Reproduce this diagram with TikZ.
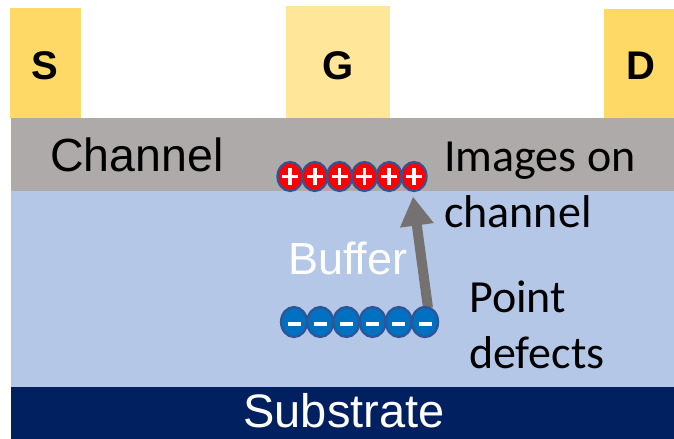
\documentclass[tikz,border=0pt]{standalone}
\usepackage{fontspec}
\setmainfont{Liberation Sans}
\newfontfamily\calib{Carlito}
\usetikzlibrary{shapes.geometric,arrows.meta,calc}
\definecolor{contactc}{HTML}{FFD966}
\definecolor{gatec}{HTML}{FFE699}
\definecolor{channelc}{HTML}{AEAAAA}
\definecolor{bufferc}{HTML}{B4C7E7}
\definecolor{substratec}{HTML}{002060}
\definecolor{arrowc}{HTML}{767171}
\definecolor{rimc}{HTML}{2F5597}
\definecolor{posc}{HTML}{FF0000}
\definecolor{negc}{HTML}{0070C0}
\newcommand\fsz[1]{\fontsize{#1bp}{#1bp}\selectfont}
\begin{document}
\begin{tikzpicture}[x=1bp,y=-1bp,
  lbl/.style={inner sep=0pt,anchor=base west},
  contactlbl/.style={inner sep=0pt,font=\fsz{40}\bfseries},
  pcirc/.style={ellipse,draw=rimc,fill=posc,line width=2.2bp,minimum width=25bp,minimum height=29bp,inner sep=0pt},
  ncirc/.style={ellipse,draw=rimc,fill=negc,line width=2.2bp,minimum width=26bp,minimum height=30bp,inner sep=0pt},
  signbar/.style={white,line width=3.5bp},
  bigarrow/.style={arrowc,line width=10bp,-{Triangle[width=32bp,length=29bp]}}
  ]
\useasboundingbox (0,0) rectangle (674,439);
\fill[white] (0,0) rectangle (674,439);
% contacts
\fill[contactc] (10,8) rectangle (81,118);
\fill[gatec] (286,6) rectangle (390,118);
\fill[contactc] (604,9) rectangle (674,118);
% layers
\fill[channelc] (11,118) rectangle (674,191);
\fill[bufferc] (11,191) rectangle (674,387);
\fill[substratec] (11,387) rectangle (674,439);
% contact labels
\node[contactlbl] (s) at (45,66) {S};
\node[contactlbl] (g) at (338,66) {G};
\node[contactlbl] (d) at (641,66) {D};
% layer labels
\node[lbl,font=\fsz{46.5}] (chan) at (50,171.7) {Channel};
\node[lbl,font=\fsz{45},text=white] (buf) at (288,275) {Buffer};
\node[inner sep=0pt,anchor=base,font=\fsz{47},text=white] (sub) at (344,427) {Substrate};
\node[lbl,font=\calib\fsz{46}] (img1) at (444,171.7) {Images on};
\node[lbl,font=\calib\fsz{46}] (img2) at (444,228) {channel};
\node[lbl,font=\calib\fsz{46}] (pt1) at (469,313) {Point};
\node[lbl,font=\calib\fsz{46}] (pt2) at (469,368) {defects};
% charges
\foreach \i in {1,...,6} {
  \node[pcirc] (p\i) at ({290+24.8*(\i-1)},176.5) {};
  \draw[signbar] ($(p\i.center)+(-8,0)$) -- ++(16,0);
  \draw[signbar] ($(p\i.center)+(0,-8.5)$) -- ++(0,17);
}
\foreach \i in {1,...,6} {
  \node[ncirc] (m\i) at ({294+26.2*(\i-1)},322) {};
  \draw[signbar] ($(m\i.center)+(-6.5,2)$) -- ++(13,0);
}
\draw[bigarrow] ($(m6.north)+(3,2)$) -- ($(p6.south)+(-1,4.5)$);
\node[ncirc] (m6b) at (m6) {};
\draw[signbar] ($(m6b.center)+(-6.5,2)$) -- ++(13,0);
\end{tikzpicture}
\end{document}
